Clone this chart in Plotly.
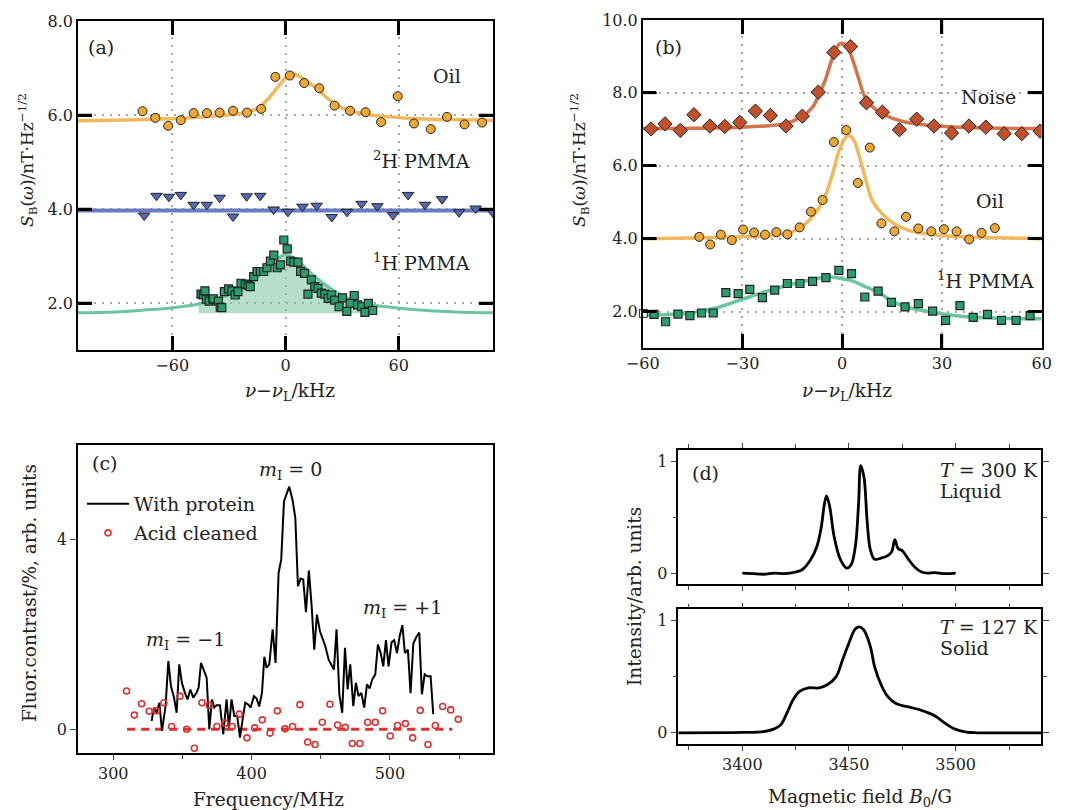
import plotly.graph_objects as go

W, H = 1072, 810
OFF = 8                      # default page margin of the browser body
FW, FH = W - OFF, H - OFF    # figure size so the page fits the window
FONT = "DejaVu Serif"

# ---------------- Panel (a) data ----------------
a_xticks = [-60, 0, 60]
a_yticks = [2, 4, 6, 8]
oil_a_x = [-75.8, -69, -62.2, -55.5, -48.7, -41.7, -34.9, -27.8, -20.4, -12.9, -5.4, 2.3, 9.9, 17.9,
           26, 34.2, 42.4, 50.7, 59.5, 68.1, 77, 85.6, 94.9, 104.2]
oil_a_y = [6.08, 5.94, 5.77, 5.89, 6.04, 6.04, 6.05, 6.09, 6.05, 6.13, 6.81, 6.84, 6.68, 6.57,
           6.20, 6.09, 6.06, 5.85, 6.40, 5.82, 5.70, 5.96, 5.80, 5.84]
oil_a_edge_x = [113.7]
oil_a_edge_y = [5.70]
oil_a_fit_x = [-110, -90, -70, -50, -35, -25, -20, -15, -10, -5, -3, 0, 3, 6, 9, 13, 17, 21, 25, 30,
               36, 45, 55, 70, 90, 110]
oil_a_fit_y = [5.88, 5.89, 5.91, 5.94, 5.99, 6.02, 6.06, 6.14, 6.31, 6.55, 6.65, 6.79, 6.88, 6.85, 6.78,
               6.67, 6.55, 6.40, 6.27, 6.15, 6.07, 6.00, 5.96, 5.92, 5.90, 5.89]

pmma2_x = [-74.9, -68.4, -61.8, -55.5, -48.7, -41.7, -34.9, -27.8, -20.6, -13.4, -6.3, 1.3, 9.0, 16.5,
           24.5, 32.6, 40.3, 48.7, 57, 65, 74, 83, 92, 100.8, 110]
pmma2_y = [3.86, 4.28, 4.26, 4.30, 4.09, 4.09, 4.24, 3.84, 4.27, 4.28, 3.99, 3.94, 4.05, 4.07,
           3.83, 3.94, 4.11, 4.06, 3.87, 4.30, 4.09, 4.21, 3.93, 4.01, 3.92]
pmma2_fit_x = [-110, 110]
pmma2_fit_y = [3.97, 3.97]

pmma1_a_x = [-44.8, -43.6, -42.7, -42.0, -40.5, -38.5, -38.2, -35.6, -34.6, -33.8, -32.4, -30.2, -28.4,
             -26.7, -25.2, -23.6, -21.3, -19.9, -18.7, -16.9, -15.1, -13.3, -11.6, -9.8, -8.0, -6.2,
             -4.4, -2.7, -0.9, 0.9, 2.7, 4.4, 6.6, 8.0, 10.1, 11.9, 13.7, 15.5, 17.2, 19.0, 20.8, 22.6,
             24.4, 26.1, 28.4, 30.2, 32.5, 34.3, 36.4, 38.2, 40.4, 42.1, 43.9, 46.2]
pmma1_a_y = [2.19, 2.17, 2.26, 2.08, 2.04, 2.08, 2.09, 2.04, 1.91, 1.90, 2.24, 2.30, 2.26,
             2.17, 2.24, 2.42, 2.40, 2.38, 2.35, 2.56, 2.67, 2.67, 2.67, 2.75, 2.89, 3.02,
             2.75, 2.81, 3.34, 3.15, 2.89, 2.87, 2.87, 2.67, 2.63, 2.19, 2.49, 2.35, 2.31, 2.21, 2.19, 2.10,
             2.17, 2.06, 1.92, 2.11, 1.82, 1.99, 2.16, 1.96, 1.92, 1.80, 1.99, 1.84]
pmma1_a_fit_x = [-110, -90, -75, -60, -46, -35, -25, -15, -8, -3, 0, 3, 8, 15, 22, 30, 40, 47, 60, 75, 90, 110]
pmma1_a_fit_y = [1.79, 1.81, 1.85, 1.90, 1.98, 2.10, 2.28, 2.55, 2.82, 2.98, 3.03, 2.99, 2.84, 2.58,
                 2.36, 2.16, 2.00, 1.95, 1.89, 1.84, 1.81, 1.79]
pmma1_a_fill_range = [-46, 47]
pmma1_a_fill_base = 1.78

# ---------------- Panel (b) data ----------------
b_xticks = [-60, -30, 0, 30, 60]
b_yticks = [2, 4, 6, 8, 10]
noise_x = [-57.5, -53.3, -48.7, -44.6, -39.8, -35.3, -30.8, -26.1, -21.6, -16.9, -12.0, -7.2, -2.5, 2.5,
           7.3, 12.1, 17.2, 22.4, 27.6, 32.9, 38.1, 43.2, 48.7, 54, 59.5]
noise_y = [7.01, 7.15, 6.97, 7.40, 7.09, 7.08, 7.19, 7.50, 7.38, 7.09, 7.36, 8.02, 9.11, 9.27,
           7.73, 7.47, 6.99, 7.28, 7.09, 6.90, 7.09, 7.06, 6.88, 6.88, 6.95]
noise_fit_x = [-60, -45, -30, -22, -17, -12, -9, -7, -5, -3, -1, 0, 1.5, 3, 5, 7, 10, 13, 18, 25, 35, 48, 60]
noise_fit_y = [7.02, 7.03, 7.06, 7.10, 7.16, 7.36, 7.60, 7.95, 8.38, 8.95, 9.33, 9.36, 9.25, 8.95, 8.38,
               7.85, 7.55, 7.38, 7.22, 7.12, 7.06, 7.03, 7.02]

oil_b_x = [-43, -39.7, -36.5, -33.2, -29.8, -26.5, -23.2, -19.8, -16.5, -12.8, -9.4, -5.9, -2.5, 1.2,
           4.7, 8.3, 11.8, 15.7, 19.2, 22.9, 26.8, 30.6, 34.4, 38.2, 41.9, 45.9]
oil_b_y = [4.05, 3.84, 4.11, 3.96, 4.25, 4.17, 4.11, 4.18, 4.12, 4.31, 4.74, 5.06, 6.65, 6.98,
           5.53, 6.50, 4.42, 4.20, 4.60, 4.28, 4.20, 4.26, 4.20, 3.98, 4.16, 4.29]
oil_b_fit_x = [-60, -45, -30, -20, -14, -10, -7, -5, -3, -1, 1, 2, 3.5, 5, 7, 9, 12, 16, 22, 30, 40, 50, 60]
oil_b_fit_y = [4.0, 4.02, 4.05, 4.09, 4.23, 4.5, 4.85, 5.2, 5.75, 6.4, 6.78, 6.83, 6.7, 6.3, 5.65, 5.05,
               4.68, 4.39, 4.18, 4.09, 4.04, 4.02, 4.0]

pmma1_b_x = [-56.6, -53.1, -49.4, -45.8, -42.3, -38.8, -35, -31.3, -27.8, -24, -20.3, -16.5, -12.7, -8.9,
             -4.9, -1.0, 2.8, 6.8, 10.8, 14.8, 18.9, 22.9, 27.2, 31.1, 35.4, 39.4, 43.7, 47.9, 52.3, 56.5]
pmma1_b_y = [1.92, 1.72, 1.93, 1.89, 1.96, 1.96, 2.52, 2.49, 2.61, 2.38, 2.59, 2.77, 2.77, 2.83,
             2.93, 3.13, 3.04, 2.40, 2.56, 2.25, 2.13, 2.22, 2.01, 1.76, 2.16, 1.84, 1.92, 1.76, 1.76, 1.89]
pmma1_b_edge_x = [-59.8, 61]
pmma1_b_edge_y = [1.95, 1.79]
pmma1_b_fit_x = [-60, -52, -45, -38, -30, -24, -18, -12, -8, -5, -3, 0, 3, 7, 11, 15, 20, 27, 35, 45, 60]
pmma1_b_fit_y = [1.90, 1.92, 1.97, 2.10, 2.34, 2.52, 2.68, 2.82, 2.90, 2.95, 2.95, 2.90, 2.84, 2.68, 2.52,
                 2.28, 2.11, 1.98, 1.88, 1.82, 1.80]

# ---------------- Panel (c) data ----------------
prot_x = [327.7, 329.4, 331.3, 333.3, 335.2, 337.8, 339.8, 341.7, 343.9, 345.8, 347.7, 349.6, 351.8, 353.7,
          355.7, 357.8, 360.2, 361.7, 363.4, 365.5, 367.5, 369.4, 371.3, 373.0, 374.7, 377.1, 379.5, 381.9,
          383.6, 385.5, 387.5, 389.6, 391.6, 393.5, 395.4, 397.3, 399.3, 401.7, 403.6, 405.5, 407.5, 409.2,
          410.8, 412.8, 415.2, 417.3, 419.5, 421.4, 423.4, 425.3, 427.2, 429.6, 431.6, 433.5, 435.4, 437.3,
          439.3, 441.4, 443.4, 445.3, 447.2, 449.4, 451.3, 453.3, 455.7, 457.6, 459.5, 461.4, 463.4, 465.5,
          467.5, 469.4, 471.3, 473.5, 475.4, 477.3, 479.3, 481.4, 483.4, 485.3, 487.2, 489.4, 491.3, 493.3,
          495.2, 497.1, 499.0, 501.2, 503.1, 505.1, 507.0, 509.0, 510.8, 513.0, 514.9, 516.9, 519.3, 521.2,
          523.1, 525.1, 527.0, 529.4, 531.3]
prot_y = [0.175, 0.456, 0.35, 0.56, -0.035, 0.49, 1.44, 0.91, 0.67, 0.35, 1.37, 0.98, 0.77, 0.63,
          0.84, 0.67, 0.77, 0.88, 1.40, 1.26, 1.09, 0.0, 0.63, 0.46, 0.51, 0.51, -0.105, 0.63,
          0.035, 0.63, 0.28, 0.28, -0.175, 0.21, 0.56, 0.53, 0.46, 0.70, 0.65, 0.48, 0.77, 1.53,
          1.30, 1.37, 2.11, 1.40, 3.30, 3.58, 4.81, 4.97, 5.12, 4.84, 4.46, 3.02, 3.18, 3.16,
          2.47, 3.35, 2.60, 1.68, 2.42, 2.07, 1.92, 1.75, 1.47, 1.37, 1.26, 2.11, 0.74, 0.35,
          1.72, 0.84, 1.37, 0.49, 0.98, 0.70, 0.77, 0.46, 0.95, 0.86, 1.05, 1.16, 1.79, 1.61,
          1.33, 1.88, 1.33, 1.84, 1.88, 1.61, 1.96, 2.20, 1.61, 1.68, 0.76, 1.81, 1.96, 2.04,
          0.74, 1.16, 1.12, 1.12, 0.32]
acid_x = [309.6, 315.2, 320.5, 326.0, 331.3, 336.6, 342.2, 348.2, 353.0, 358.6, 364.1, 369.4, 374.9, 380.7,
          386.0, 391.1, 396.6, 402.2, 407.7, 413.3, 418.6, 424.1, 429.6, 434.9, 440.5, 445.8, 451.1, 456.6,
          462.2, 467.7, 472.8, 478.3, 483.9, 489.4, 494.7, 500.2, 505.5, 511.1, 516.4, 521.9, 527.5, 532.8,
          538.1, 543.9, 549.4]
acid_y = [0.81, 0.30, 0.54, 0.38, 0.39, 0.56, 0.06, 0.70, 0.0, -0.40, 0.56, 0.51, 0.06, 0.13,
          0.06, 0.32, -0.18, 0.03, 0.20, -0.08, 0.39, 0.01, 0.06, 0.52, -0.27, -0.32, 0.15, 0.53,
          0.09, 0.04, -0.30, -0.30, 0.15, 0.15, 0.39, -0.14, 0.08, 0.12, -0.18, 0.40, -0.32, 0.08,
          0.48, 0.41, 0.21]
acid_fit_x = [310, 545]
acid_fit_y = [0.0, 0.0]

# ---------------- Panel (d) data ----------------
liq_x = [3400, 3405, 3410, 3415, 3420, 3425, 3428, 3432, 3435, 3437, 3438.5, 3439.5, 3441, 3443, 3446,
         3449, 3451, 3453, 3454.5, 3455.5, 3457, 3458.5, 3460, 3462, 3465, 3468, 3470, 3471.5, 3473,
         3475, 3478, 3481, 3484, 3487, 3490, 3495, 3500]
liq_y = [0.0, -0.005, -0.01, 0.0, -0.005, 0.01, 0.03, 0.12, 0.24, 0.41, 0.62, 0.69, 0.59, 0.33, 0.12,
         0.044, 0.074, 0.24, 0.62, 0.96, 0.86, 0.47, 0.21, 0.124, 0.133, 0.154, 0.19, 0.30, 0.22,
         0.20, 0.12, 0.05, 0.01, 0.0, 0.005, -0.005, 0.0]
sol_x = [3370, 3400, 3410, 3415, 3418, 3421, 3424, 3427, 3431, 3436, 3440, 3444, 3447, 3450, 3453, 3455,
         3457, 3460, 3462, 3465, 3468, 3472, 3478, 3484, 3490, 3494, 3497, 3500, 3505, 3510, 3540]
sol_y = [0.0, 0.003, 0.01, 0.035, 0.07, 0.18, 0.30, 0.37, 0.40, 0.40, 0.43, 0.50, 0.65, 0.80, 0.926, 0.944,
         0.914, 0.77, 0.59, 0.43, 0.326, 0.26, 0.23, 0.20, 0.154, 0.10, 0.06, 0.03, 0.006, 0.0, 0.0]

# ---------------- colours ----------------
ORANGE, ORANGE_L = "#F0A833", "#F2B85C"
BLUE, BLUE_L = "#5468B4", "#6B7BC0"
GREEN, GREEN_L, GREEN_F = "#2A9D6F", "#6CC4A0", "rgba(120,195,160,0.55)"
RUST, RUST_L = "#C2502A", "#D3744C"
RED = "#E0302F"
EDGE = "#222222"
TXT = "#222222"

fig = go.Figure()


def px_x(p):
    return (p - OFF) / FW


def px_y(p):
    return 1 - (p - OFF) / FH


# ---- (a) ----
lo, hi = pmma1_a_fill_range
fx = [x for x in pmma1_a_fit_x if lo <= x <= hi]
fy = [y for x, y in zip(pmma1_a_fit_x, pmma1_a_fit_y) if lo <= x <= hi]
fig.add_trace(go.Scatter(x=fx + fx[::-1], y=fy + [pmma1_a_fill_base] * len(fx), fill="toself",
                         fillcolor=GREEN_F, line=dict(width=0, shape="spline"), mode="lines", xaxis="x", yaxis="y",
                         showlegend=False, hoverinfo="skip"))
fig.add_trace(go.Scatter(x=pmma1_a_fit_x, y=pmma1_a_fit_y, mode="lines", line=dict(color=GREEN_L, width=3, shape="spline"),
                         xaxis="x", yaxis="y", showlegend=False))
fig.add_trace(go.Scatter(x=oil_a_fit_x, y=oil_a_fit_y, mode="lines", line=dict(color=ORANGE_L, width=3.5, shape="spline"),
                         xaxis="x", yaxis="y", showlegend=False))
fig.add_trace(go.Scatter(x=pmma2_fit_x, y=pmma2_fit_y, mode="lines", line=dict(color=BLUE_L, width=4),
                         xaxis="x", yaxis="y", showlegend=False))
fig.add_trace(go.Scatter(x=oil_a_x, y=oil_a_y, mode="markers",
                         marker=dict(symbol="circle", size=9, color=ORANGE, line=dict(color=EDGE, width=1)),
                         xaxis="x", yaxis="y", showlegend=False))
fig.add_trace(go.Scatter(x=oil_a_edge_x, y=oil_a_edge_y, mode="markers", cliponaxis=False,
                         marker=dict(symbol="circle", size=9, color="white", line=dict(color=EDGE, width=1)),
                         xaxis="x", yaxis="y", showlegend=False))
fig.add_trace(go.Scatter(x=pmma2_x, y=pmma2_y, mode="markers",
                         marker=dict(symbol="triangle-down", size=10, color=BLUE, line=dict(color=EDGE, width=1)),
                         xaxis="x", yaxis="y", showlegend=False))
fig.add_trace(go.Scatter(x=pmma1_a_x, y=pmma1_a_y, mode="markers",
                         marker=dict(symbol="square", size=8, color=GREEN, line=dict(color=EDGE, width=1.2)),
                         xaxis="x", yaxis="y", showlegend=False))

# ---- (b) ----
for fx_, fy_, col in [(noise_fit_x, noise_fit_y, RUST_L), (oil_b_fit_x, oil_b_fit_y, ORANGE_L),
                      (pmma1_b_fit_x, pmma1_b_fit_y, GREEN_L)]:
    fig.add_trace(go.Scatter(x=fx_, y=fy_, mode="lines", line=dict(color=col, width=3.5, shape="spline"),
                             xaxis="x2", yaxis="y2", showlegend=False))
fig.add_trace(go.Scatter(x=noise_x, y=noise_y, mode="markers",
                         marker=dict(symbol="diamond", size=11, color=RUST, line=dict(color=EDGE, width=1)),
                         xaxis="x2", yaxis="y2", showlegend=False))
fig.add_trace(go.Scatter(x=oil_b_x, y=oil_b_y, mode="markers",
                         marker=dict(symbol="circle", size=9, color=ORANGE, line=dict(color=EDGE, width=1)),
                         xaxis="x2", yaxis="y2", showlegend=False))
fig.add_trace(go.Scatter(x=pmma1_b_x, y=pmma1_b_y, mode="markers",
                         marker=dict(symbol="square", size=8, color=GREEN, line=dict(color=EDGE, width=1.2)),
                         xaxis="x2", yaxis="y2", showlegend=False))
fig.add_trace(go.Scatter(x=pmma1_b_edge_x, y=pmma1_b_edge_y, mode="markers", cliponaxis=False,
                         marker=dict(symbol="square", size=8, color="white", line=dict(color=EDGE, width=1)),
                         xaxis="x2", yaxis="y2", showlegend=False))

# ---- (c) ----
fig.add_trace(go.Scatter(x=acid_fit_x, y=acid_fit_y, mode="lines", line=dict(color=RED, width=3, dash="8px,6px"),
                         xaxis="x3", yaxis="y3", showlegend=False))
fig.add_trace(go.Scatter(x=prot_x, y=prot_y, mode="lines", line=dict(color="black", width=2),
                         xaxis="x3", yaxis="y3", name="With protein", legend="legend"))
fig.add_trace(go.Scatter(x=acid_x, y=acid_y, mode="markers",
                         marker=dict(symbol="circle-open", size=6, color=RED, line=dict(width=1.6)),
                         xaxis="x3", yaxis="y3", name="Acid cleaned", legend="legend2"))

# ---- (d) ----
fig.add_trace(go.Scatter(x=liq_x, y=liq_y, mode="lines", line=dict(color="black", width=2.8, shape="spline"),
                         xaxis="x4", yaxis="y4", showlegend=False))
fig.add_trace(go.Scatter(x=sol_x, y=sol_y, mode="lines", line=dict(color="black", width=2.8, shape="spline"),
                         xaxis="x5", yaxis="y5", showlegend=False))

tickfont = dict(family=FONT, size=16, color=TXT)
common = dict(showline=True, linecolor="black", linewidth=1.5, mirror=True, zeroline=False,
              tickfont=tickfont, automargin=False)


def ab_axis(**kw):
    # framed axis with dotted grid and long inside ticks on all four sides (panels a, b)
    return dict(showline=True, linecolor="black", linewidth=1.5, mirror="ticks", zeroline=False,
                automargin=False, tickfont=tickfont, ticks="inside", ticklen=14, tickwidth=2.5,
                tickcolor="black", showgrid=True, gridcolor="#a8a8a8", griddash="2px,6px", gridwidth=1.5, **kw)


d_common = {**common, "mirror": "allticks"}

A_DOM_X = [px_x(78), px_x(493)]
A_DOM_Y = [px_y(350), px_y(21)]
B_DOM_X = [px_x(642.7), px_x(1041.7)]
B_DOM_Y = [px_y(348), px_y(20)]

layout = dict(
    width=FW, height=FH, margin=dict(l=0, r=0, t=0, b=0),
    paper_bgcolor="white", plot_bgcolor="white",
    font=dict(family=FONT, size=16, color=TXT),
    xaxis=ab_axis(domain=A_DOM_X, range=[-110, 110], tickvals=a_xticks, anchor="y"),
    yaxis=ab_axis(domain=A_DOM_Y, range=[1.0, 8.0], tickvals=a_yticks, tickformat=".1f", anchor="x"),
    xaxis2=ab_axis(domain=B_DOM_X, range=[-60, 60], tickvals=b_xticks, anchor="y2"),
    yaxis2=ab_axis(domain=B_DOM_Y, range=[1.0, 10.0], tickvals=b_yticks, tickformat=".1f", anchor="x2"),
    xaxis3=dict(domain=[px_x(78), px_x(493)], range=[274.5, 574.5], tickvals=[300, 400, 500], anchor="y3",
                ticks="outside", ticklen=5, tickwidth=1.3, showgrid=False,
                minor=dict(tickvals=[350, 450, 550], ticks="outside", ticklen=4, tickwidth=1.2),
                **common),
    yaxis3=dict(domain=[px_y(753), px_y(445)], range=[-0.5, 6.0], tickvals=[0, 4], anchor="x3",
                ticks="outside", ticklen=6, tickwidth=1.3, showgrid=False, **common),
    yaxis6=dict(overlaying="y3", side="right", range=[-0.512, 7.0], tickvals=[0, 1, 2, 3, 4, 5, 6],
                showticklabels=False, ticks="inside", ticklen=4, tickwidth=1.2, showgrid=False,
                showline=False, zeroline=False, anchor="x3", automargin=False),
    xaxis4=dict(domain=[px_x(678.3), px_x(1041)], range=[3370, 3540], tickvals=[3400, 3450, 3500],
                showticklabels=False, anchor="y4", ticks="outside", ticklen=5, tickwidth=1.3, showgrid=False,
                minor=dict(tickvals=[3375, 3425, 3475, 3525], ticks="outside", ticklen=4), **d_common),
    yaxis4=dict(domain=[px_y(584.3), px_y(450)], range=[-0.1, 1.1], tickvals=[0, 1], anchor="x4",
                ticks="outside", ticklen=6, tickwidth=1.3, showgrid=False,
                minor=dict(tickvals=[0.5], ticks="outside", ticklen=4), **d_common),
    xaxis5=dict(domain=[px_x(678.3), px_x(1041)], range=[3370, 3540], tickvals=[3400, 3450, 3500],
                anchor="y5", ticks="outside", ticklen=5, tickwidth=1.3, showgrid=False,
                minor=dict(tickvals=[3375, 3425, 3475, 3525], ticks="outside", ticklen=4), **d_common),
    yaxis5=dict(domain=[px_y(744), px_y(609.3)], range=[-0.1, 1.1], tickvals=[0, 1], anchor="x5",
                ticks="outside", ticklen=6, tickwidth=1.3, showgrid=False,
                minor=dict(tickvals=[0.5], ticks="outside", ticklen=4), **d_common),
    legend=dict(x=px_x(82), y=px_y(504), xanchor="left", yanchor="middle", bgcolor="rgba(0,0,0,0)",
                itemwidth=42, font=dict(family=FONT, size=19, color=TXT)),
    legend2=dict(x=px_x(82), y=px_y(533), xanchor="left", yanchor="middle", bgcolor="rgba(0,0,0,0)",
                 itemwidth=42, font=dict(family=FONT, size=19, color=TXT)),
    showlegend=True,
)
fig.update_layout(**layout)

# long inside tick marks on all four sides of panels (a) and (b), at the axis tick values
TICK_PX = 14
for xr, yr, dx, dy, xt, yt, xrng, yrng in [
        ("x", "y", A_DOM_X, A_DOM_Y, a_xticks, a_yticks, [-110, 110], [1.0, 8.0]),
        ("x2", "y2", B_DOM_X, B_DOM_Y, b_xticks, b_yticks, [-60, 60], [1.0, 10.0])]:
    lx = TICK_PX / ((dx[1] - dx[0]) * FW)
    ly = TICK_PX / ((dy[1] - dy[0]) * FH)
    for v in xt:
        if xrng[0] < v < xrng[1]:
            for y0, y1 in [(0, ly), (1 - ly, 1)]:
                fig.add_shape(type="line", xref=xr, yref=yr + " domain", x0=v, x1=v, y0=y0, y1=y1,
                              line=dict(color="black", width=2.5))
    for v in yt:
        if yrng[0] < v < yrng[1]:
            for x0, x1 in [(0, lx), (1 - lx, 1)]:
                fig.add_shape(type="line", xref=xr + " domain", yref=yr, x0=x0, x1=x1, y0=v, y1=v,
                              line=dict(color="black", width=2.5))


def ann(text, x, y, size=19, xanchor="center", angle=0):
    fig.add_annotation(text=text, x=px_x(x), y=px_y(y), xref="paper", yref="paper", showarrow=False,
                       xanchor=xanchor, yanchor="middle", textangle=angle, align="left",
                       font=dict(family=FONT, size=size, color=TXT))


# panel labels and series labels
ann("(a)", 101, 47)
ann("Oil", 447, 76)
ann("<sup>2</sup>H PMMA", 421, 160)
ann("<sup>1</sup>H PMMA", 421, 262)
ann("(b)", 668, 47)
ann("Noise", 988, 97)
ann("Oil", 990, 201)
ann("<sup>1</sup>H PMMA", 985, 280)
ann("(c)", 104, 463)
ann("<i>m</i><sub>I</sub> = 0", 290, 470)
ann("<i>m</i><sub>I</sub> = −1", 185, 640)
ann("<i>m</i><sub>I</sub> = +1", 402, 608)
ann("(d)", 705, 473)
ann("<i>T</i> = 300 K", 938, 470, xanchor="left")
ann("Liquid", 938, 491, xanchor="left")
ann("<i>T</i> = 127 K", 938, 627, xanchor="left")
ann("Solid", 938, 648, xanchor="left")

# axis titles
ann("<i>S</i><sub>B</sub>(<i>ω</i>)/nT·Hz<sup>−1/2</sup>", 28, 160, 17, angle=-90)
ann("<i>S</i><sub>B</sub>(<i>ω</i>)/nT·Hz<sup>−1/2</sup>", 580, 160, 17, angle=-90)
ann("<i>ν</i>−<i>ν</i><sub>L</sub>/kHz", 290, 392, 18.5)
ann("<i>ν</i>−<i>ν</i><sub>L</sub>/kHz", 847, 392, 18.5)
ann("Fluor.contrast/%, arb. units", 29, 593, 18.5, angle=-90)
ann("Frequency/MHz", 268, 799, 18.5)
ann("Intensity/arb. units", 634, 597, 18.5, angle=-90)
ann("Magnetic field <i>B</i><sub>0</sub>/G", 860, 798, 18.5)

fig.write_html("out.html")
